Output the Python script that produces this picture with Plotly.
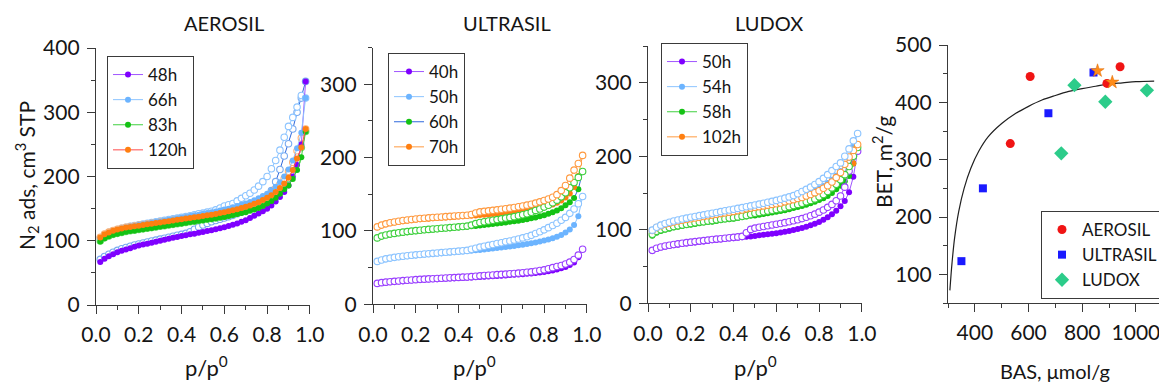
import plotly.graph_objects as go

# ---------------- data ----------------
P = [0.02, 0.04, 0.06, 0.08, 0.10, 0.12, 0.14, 0.16, 0.18, 0.20,
     0.22, 0.24, 0.26, 0.28, 0.30, 0.32, 0.34, 0.36, 0.38, 0.40,
     0.42, 0.44, 0.46, 0.48, 0.50, 0.52, 0.54, 0.56, 0.58, 0.60,
     0.62, 0.64, 0.66, 0.68, 0.70, 0.72, 0.74, 0.76, 0.78, 0.80,
     0.82, 0.84, 0.86, 0.88, 0.90, 0.92, 0.94, 0.96, 0.98]

# AEROSIL
A48_ADS = [67, 72, 76, 79, 82, 84.5, 86.5, 88.5, 90.5, 92.5,
           94, 95.5, 97, 98.5, 100, 101.5, 103, 104.5, 106, 107.5,
           108.5, 110, 111, 112.5, 113.5, 115, 116.5, 118, 119.5, 121,
           123, 125, 127, 129.5, 132, 135.5, 139, 142.5, 146, 150,
           155, 161, 168, 176, 186, 200, 218, 250, 348]
A48_DES = [71, 75.5, 79, 82, 85, 87.5, 89.5, 91.5, 93.5, 95,
           96.5, 98, 99.5, 101, 102.5, 104, 105.5, 107, 108.5, 110,
           111.5, 114, 118, 121.5, 124.5, 127, 129.5, 131.5, 133.5, 135.5,
           137.5, 139.5, 142, 144.5, 147, 150, 153, 157, 162, 168,
           178, 192, 211, 232, 251, 274, 300, 322, 348]
A66_ADS = [104, 109, 112.5, 115, 117, 119, 120.5, 122, 123, 124.5,
           125.5, 126.5, 128, 129, 130, 131.5, 132.5, 133.5, 135, 136,
           137, 138.5, 139.5, 140.5, 142, 143, 144.5, 145.5, 147, 148.5,
           150, 152, 154, 156, 158, 160.5, 163, 166, 169.5, 173,
           178, 184, 191, 200, 211, 225, 244, 268, 322]
A66_DES = [104.5, 109.5, 113, 115.5, 117.5, 119.5, 121, 122.5, 123.5, 125,
           126, 127, 128.5, 129.5, 130.5, 132, 133, 134, 135.5, 136.5,
           137.5, 139, 140.5, 142, 143, 144.5, 146, 148, 151, 154,
           156, 158, 162, 166, 170, 174, 179, 185, 192, 200,
           212, 225, 241, 261, 278, 292, 308, 326, 322]
A83_ADS = [99, 104, 107, 109.5, 111, 112.5, 114, 115, 116, 117,
           118, 119, 120, 121, 122, 123, 124, 125, 126, 127,
           128, 129, 130, 131, 132, 133, 134, 135, 136, 137,
           138.5, 140, 141.5, 143, 144.5, 146.5, 148.5, 151, 154, 158,
           162, 167, 173, 180, 186, 196, 210, 230, 270]
A83_DES = [99.5, 104.5, 107.5, 110, 111.5, 113, 114.5, 115.5, 116.5, 117.5,
           118.5, 119.5, 120.5, 121.5, 122.5, 123.5, 124.5, 125.5, 126.5, 127.5,
           128.5, 129.5, 130.5, 131.5, 132.5, 133.5, 134.5, 135.5, 137, 138.5,
           140, 141.5, 143, 145, 147, 149, 151.5, 154.5, 158, 162,
           167, 173, 180, 188, 197, 208, 224, 245, 270]
A120_ADS = [105, 110, 113, 115.5, 117.5, 119, 120.5, 121.5, 122.5, 123.5,
            124.5, 125.5, 126.5, 127.5, 128.5, 129.5, 130.5, 131.5, 132.5, 133.5,
            134.5, 135.5, 136.5, 137.5, 138.5, 139.5, 140.5, 141.5, 143, 144.5,
            146, 147.5, 149, 151, 153, 155, 157.5, 160, 163.5, 167,
            171, 176, 182, 189, 198, 210, 228, 245, 274]
A120_DES = [105.5, 110.5, 113.5, 116, 118, 119.5, 121, 122, 123, 124,
            125, 126, 127, 128, 129, 130, 131, 132, 133, 134,
            135, 136, 137, 138, 139, 140, 141, 142, 143.5, 145,
            146.5, 148, 150, 152, 154, 156.5, 159, 162, 166, 170,
            175, 181, 188, 197, 208, 222, 240, 260, 274]

# ULTRASIL
U40_ADS = [28, 29, 29.5, 30, 30.5, 31, 31.5, 32, 32.5, 33,
           33.2, 33.5, 33.8, 34, 34.3, 34.6, 34.9, 35.2, 35.5, 35.8,
           36, 36.3, 36.6, 37, 37.3, 37.6, 38, 38.3, 38.7, 39,
           39.4, 39.8, 40.2, 40.6, 41, 41.5, 42, 42.6, 43.2, 44,
           45, 46, 47.5, 49, 51, 53.5, 57, 64, 75]
U40_DES = [28.5, 29.5, 30.2, 30.8, 31.3, 31.8, 32.3, 32.8, 33.2, 33.6,
           34, 34.3, 34.6, 34.9, 35.2, 35.5, 35.8, 36.1, 36.4, 36.7,
           37, 37.3, 37.7, 38.3, 38.8, 39.2, 39.6, 40, 40.4, 40.8,
           41.2, 41.6, 42, 42.5, 43, 43.6, 44.2, 45, 46, 47,
           48.5, 50, 51.5, 53, 55, 57.5, 61, 67, 75]
U50_ADS = [58, 60, 61.3, 62.3, 63.2, 64, 64.7, 65.4, 66, 66.6,
           67.1, 67.6, 68.1, 68.6, 69.1, 69.6, 70.1, 70.6, 71.1, 71.6,
           72.1, 72.6, 73.1, 73.6, 74.1, 74.7, 75.3, 76, 76.7, 77.4,
           78.1, 78.8, 79.6, 80.4, 81.3, 82.2, 83.2, 84.3, 85.5, 87,
           88.5, 90, 92, 94.5, 98, 102, 108, 120, 147]
U50_DES = [58.5, 60.5, 62, 63, 64, 64.8, 65.5, 66.2, 66.8, 67.4,
           68, 68.5, 69, 69.5, 70, 70.5, 71, 71.5, 72, 72.5,
           73, 73.5, 75, 76.5, 78, 79.2, 80.4, 81.6, 82.8, 84,
           85.2, 86.4, 87.6, 89, 90.5, 92, 94, 96.5, 99, 101.5,
           104.5, 107.5, 110.5, 114.5, 118.5, 124, 130, 137, 147]
U60_ADS = [90, 92.5, 94, 95, 96, 96.8, 97.6, 98.3, 99, 99.6,
           100.2, 100.8, 101.3, 101.8, 102.3, 102.8, 103.3, 103.8, 104.3, 104.8,
           105.3, 105.8, 106.3, 106.8, 107.3, 108, 108.7, 109.4, 110.1, 110.8,
           111.6, 112.4, 113.2, 114, 115, 116, 117.2, 118.5, 120, 121.5,
           123.5, 125.5, 128, 131, 135, 139, 145, 157, 181]
U60_DES = [90.5, 93, 94.5, 95.7, 96.7, 97.6, 98.4, 99.1, 99.8, 100.4,
           101, 101.6, 102.1, 102.6, 103.1, 103.6, 104.1, 104.6, 105.1, 105.6,
           106.1, 106.6, 108, 110, 111.5, 112.5, 113.5, 114.5, 115.5, 116.5,
           117.5, 118.5, 119.5, 120.7, 122, 123.5, 125.5, 128, 130, 132.5,
           135, 138.5, 142, 146.5, 152, 159, 166, 173, 181]
U70_ADS = [105, 107.5, 109, 110.5, 111.5, 112.5, 113.3, 114, 114.7, 115.3,
           115.8, 116.3, 116.8, 117.2, 117.6, 118, 118.4, 118.8, 119.2, 119.6,
           120, 120.4, 120.8, 121.2, 121.6, 122, 122.5, 123, 123.5, 124,
           124.6, 125.2, 125.9, 126.6, 127.4, 128.2, 129.1, 130.1, 131.3, 132.6,
           134.2, 136, 138.5, 141.5, 145.5, 151, 160, 175, 203]
U70_DES = [105.5, 108, 109.7, 111.2, 112.3, 113.3, 114.2, 115, 115.7, 116.3,
           116.9, 117.4, 117.9, 118.3, 118.7, 119.1, 119.5, 119.9, 120.3, 120.7,
           121.1, 121.5, 122.5, 124.5, 126, 126.7, 127.4, 128.1, 128.8, 129.5,
           130.3, 131.1, 132, 133, 134, 135.2, 136.5, 138, 139.7, 141.5,
           143.6, 146, 149.5, 155, 162, 172, 183, 192, 203]

# LUDOX
L50_ADS = [71, 74, 75.8, 77, 78, 79, 79.8, 80.6, 81.4, 82.1,
           82.8, 83.5, 84.2, 84.9, 85.6, 86.2, 86.8, 87.4, 88, 88.6,
           89.2, 89.8, 90.4, 91, 91.7, 92.4, 93.1, 93.8, 94.6, 95.4,
           96.3, 97.3, 98.4, 99.6, 101, 102.5, 104.2, 106, 108.2, 110.7,
           113.5, 117, 121, 126, 132, 139, 151, 172, 207]
L50_DES = [72, 74.8, 76.6, 77.9, 79, 80, 80.9, 81.7, 82.5, 83.2,
           83.9, 84.6, 85.3, 86, 86.7, 87.3, 87.9, 88.5, 89.1, 89.7,
           90.3, 91, 96, 100.5, 102.3, 103.4, 104.5, 105.5, 106.5, 107.5,
           108.6, 109.7, 110.9, 112.2, 113.6, 115.2, 117, 119, 121.3, 124,
           127, 130.5, 134.5, 139.5, 146, 158, 180, 200, 207]
L54_ADS = [98.5, 102.5, 105, 107, 108.7, 110.2, 111.5, 112.7, 113.8, 114.9,
           115.9, 116.9, 117.9, 118.9, 119.9, 120.9, 121.9, 122.9, 123.9, 124.9,
           125.9, 126.9, 127.9, 128.9, 130, 131, 132, 133.2, 134.4, 135.6,
           137, 138.4, 140, 141.7, 143.5, 145.5, 147.8, 150.3, 153, 156,
           159.5, 163.5, 168, 173.5, 180, 188, 198, 214, 231]
L54_DES = [99.5, 103.5, 106.3, 108.5, 110.3, 111.9, 113.3, 114.6, 115.8, 117,
           118.1, 119.2, 120.3, 121.4, 122.5, 123.6, 124.7, 125.8, 126.9, 128,
           129.1, 130.2, 131.3, 132.5, 133.7, 134.9, 136.1, 137.4, 138.7, 140,
           141.5, 143, 144.7, 146.5, 149, 152, 155, 158, 161.5, 165.5,
           170, 175, 180.5, 186, 191, 200, 210, 221, 231]
L58_ADS = [92, 96, 98.5, 100, 101.5, 103, 104, 105, 106, 107,
           108, 109, 110, 110.5, 111, 112, 113, 114, 114.5, 115,
           116, 117, 118, 119, 119.5, 120.5, 121.5, 122.5, 123.5, 124.5,
           125.5, 126.5, 128, 129.5, 131, 132.5, 134, 136, 138, 140.5,
           143, 146, 150, 155, 160, 166, 173, 190, 212]
L58_DES = [94, 98, 100, 101.5, 103, 104.5, 105.5, 106.5, 107.5, 108.5,
           109.5, 110.5, 111, 112, 112.5, 113.5, 114.5, 115, 116, 116.5,
           117.5, 118.5, 119.5, 121, 122.5, 123.5, 124.5, 125.5, 126.5, 127.5,
           128.5, 130, 131.5, 133, 134.5, 136, 138, 140, 142, 145,
           148, 152, 157, 162, 168, 175, 186, 200, 212]
L102_ADS = [97, 101, 103.5, 105.5, 107, 108.5, 110, 111, 112, 113,
            114, 115, 116, 117, 118, 118.5, 119.5, 120.5, 121.5, 122.5,
            123.5, 124.5, 125.5, 126.5, 127.5, 128.5, 129.5, 130.5, 131.5, 132.5,
            133.5, 134.5, 136, 137.5, 139, 140.5, 142, 144, 146.5, 149,
            152, 155.5, 159.5, 164, 169, 175, 181, 190, 216]
L102_DES = [99, 103, 105.5, 107.5, 109, 110.5, 112, 113, 114, 115,
            116, 117, 118, 119, 120, 121, 122, 123, 124, 125,
            126, 127, 128.5, 129.5, 130.5, 131.5, 132.5, 133.5, 134.5, 135.5,
            136.5, 138, 139.5, 141, 142.5, 144, 146, 148, 150.5, 153,
            156.5, 160, 165, 171, 178, 189, 199, 208, 216]

# BET vs BAS panel
AER_BAS = [532, 606, 892, 941]
AER_BET = [328, 445, 433, 462]
ULT_BAS = [350, 430, 674, 842]
ULT_BET = [123, 250, 381, 452]
LUD_BAS = [722, 771, 886, 1041]
LUD_BET = [311, 430, 401, 421]
STAR_BAS = [857, 912]
STAR_BET = [455, 435]
FIT_BAS = [307, 315, 325, 340, 360, 385, 415, 450, 500, 550, 600, 650,
           700, 750, 800, 850, 900, 950, 1000, 1068]
FIT_BET = [72, 120, 165, 210, 250, 285, 315, 340, 363, 380, 393, 404,
           412, 419, 424, 428, 432, 434, 436, 437]

PANEL_TITLES = ["AEROSIL", "ULTRASIL", "LUDOX"]
A_LABELS = ["48h", "66h", "83h", "120h"]
U_LABELS = ["40h", "50h", "60h", "70h"]
L_LABELS = ["50h", "54h", "58h", "102h"]
SCATTER_LABELS = ["AEROSIL", "ULTRASIL", "LUDOX"]

for arr in [A48_ADS, A48_DES, A66_ADS, A66_DES, A83_ADS, A83_DES, A120_ADS, A120_DES,
            U40_ADS, U40_DES, U50_ADS, U50_DES, U60_ADS, U60_DES, U70_ADS, U70_DES,
            L50_ADS, L50_DES, L54_ADS, L54_DES, L58_ADS, L58_DES, L102_ADS, L102_DES]:
    assert len(arr) == len(P), len(arr)

# ---------------- styling ----------------
W, H = 1159, 388
FONT = "Lato"
AX = "#3a3a3a"
TXT = "#151515"

PURPLE, PURPLE_L = "#7f00ff", "#a055ff"
LBLUE, LBLUE_L = "#6cb4ff", "#8cc4ff"
GREEN, GREEN_L = "#14c214", "#40d040"
ORANGE = "#ff7f10"
RED_L = "#ff4a4a"
BLUE_L = "#2f68dc"
ORANGE_L = "#ff9a40"


def fx(px):
    return px / W


def fy(py):
    return 1 - py / H


fig = go.Figure()


def ads_trace(xa, ya, y, name, mcol, lcol, legend):
    return go.Scatter(x=P, y=y, xaxis=xa, yaxis=ya, name=name, legend=legend,
                      mode="lines+markers", line=dict(color=lcol, width=1),
                      marker=dict(color=mcol, size=6, line=dict(width=0)))


def des_trace(xa, ya, y, rcol, lcol):
    return go.Scatter(x=P, y=y, xaxis=xa, yaxis=ya, showlegend=False,
                      mode="lines+markers", line=dict(color=lcol, width=1),
                      marker=dict(color="white", size=6.5,
                                  line=dict(color=rcol, width=1.1)))


# Panel 1: AEROSIL (desorption below, adsorption on top)
fig.add_trace(des_trace("x", "y", A48_DES, "#78aaf0", BLUE_L))
fig.add_trace(des_trace("x", "y", A66_DES, LBLUE_L, LBLUE_L))
fig.add_trace(des_trace("x", "y", A83_DES, "#6fdc6f", GREEN_L))
fig.add_trace(des_trace("x", "y", A120_DES, "#ffb070", RED_L))
fig.add_trace(ads_trace("x", "y", A48_ADS, A_LABELS[0], PURPLE, PURPLE_L, "legend"))
fig.add_trace(ads_trace("x", "y", A66_ADS, A_LABELS[1], LBLUE, LBLUE_L, "legend"))
fig.add_trace(ads_trace("x", "y", A83_ADS, A_LABELS[2], GREEN, GREEN_L, "legend"))
fig.add_trace(ads_trace("x", "y", A120_ADS, A_LABELS[3], ORANGE, RED_L, "legend"))

# Panel 2: ULTRASIL
fig.add_trace(ads_trace("x2", "y2", U40_ADS, U_LABELS[0], PURPLE, PURPLE_L, "legend2"))
fig.add_trace(ads_trace("x2", "y2", U50_ADS, U_LABELS[1], LBLUE, LBLUE_L, "legend2"))
fig.add_trace(ads_trace("x2", "y2", U60_ADS, U_LABELS[2], GREEN, BLUE_L, "legend2"))
fig.add_trace(ads_trace("x2", "y2", U70_ADS, U_LABELS[3], ORANGE, ORANGE_L, "legend2"))
fig.add_trace(des_trace("x2", "y2", U40_DES, "#9a40ff", PURPLE_L))
fig.add_trace(des_trace("x2", "y2", U50_DES, LBLUE_L, LBLUE_L))
fig.add_trace(des_trace("x2", "y2", U60_DES, "#3fd03f", GREEN_L))
fig.add_trace(des_trace("x2", "y2", U70_DES, ORANGE_L, ORANGE_L))

# Panel 3: LUDOX
fig.add_trace(ads_trace("x3", "y3", L50_ADS, L_LABELS[0], PURPLE, PURPLE_L, "legend3"))
fig.add_trace(ads_trace("x3", "y3", L54_ADS, L_LABELS[1], LBLUE, LBLUE_L, "legend3"))
fig.add_trace(ads_trace("x3", "y3", L58_ADS, L_LABELS[2], GREEN, GREEN_L, "legend3"))
fig.add_trace(ads_trace("x3", "y3", L102_ADS, L_LABELS[3], ORANGE, ORANGE_L, "legend3"))
fig.add_trace(des_trace("x3", "y3", L50_DES, "#9a40ff", PURPLE_L))
fig.add_trace(des_trace("x3", "y3", L58_DES, "#3fd03f", GREEN_L))
fig.add_trace(des_trace("x3", "y3", L102_DES, ORANGE_L, ORANGE_L))
fig.add_trace(des_trace("x3", "y3", L54_DES, LBLUE_L, LBLUE_L))

# Panel 4: BET vs BAS
fig.add_trace(go.Scatter(x=FIT_BAS, y=FIT_BET, xaxis="x4", yaxis="y4", mode="lines",
                         line=dict(color="#202020", width=1.2, shape="spline"),
                         showlegend=False))
fig.add_trace(go.Scatter(x=AER_BAS, y=AER_BET, xaxis="x4", yaxis="y4", mode="markers",
                         name=SCATTER_LABELS[0], legend="legend4",
                         marker=dict(symbol="circle", size=9, color="#f01414")))
fig.add_trace(go.Scatter(x=ULT_BAS, y=ULT_BET, xaxis="x4", yaxis="y4", mode="markers",
                         name=SCATTER_LABELS[1], legend="legend4",
                         marker=dict(symbol="square", size=8, color="#1a1aff")))
fig.add_trace(go.Scatter(x=LUD_BAS, y=LUD_BET, xaxis="x4", yaxis="y4", mode="markers",
                         name=SCATTER_LABELS[2], legend="legend4",
                         marker=dict(symbol="diamond", size=11, color="#2ccc8a")))
fig.add_trace(go.Scatter(x=STAR_BAS, y=STAR_BET, xaxis="x4", yaxis="y4", mode="markers",
                         showlegend=False,
                         marker=dict(symbol="star", size=10, color="#ff8c1a",
                                     line=dict(color="#e06a00", width=0.5))))

tickfont = dict(family=FONT, size=21, color=TXT)


def axis(domain, rng, dtick, minor_dtick, tick0=0, fmt=None, anchor=None):
    d = dict(domain=domain, range=rng, dtick=dtick, tick0=tick0,
             showline=True, linecolor=AX, linewidth=1.3, mirror=False,
             ticks="outside", ticklen=8, tickwidth=1.3, tickcolor=AX,
             showgrid=False, zeroline=False, tickfont=tickfont,
             automargin=False, anchor=anchor, ticklabelstandoff=3,
             ticklabeloverflow="allow",
             minor=dict(dtick=minor_dtick, tick0=tick0, ticks="outside",
                        ticklen=4, tickwidth=1.2, tickcolor=AX, showgrid=False))
    if fmt:
        d["tickformat"] = fmt
    return d


def leg(x, y):
    return dict(x=fx(x), y=fy(y), xanchor="left", yanchor="top", bgcolor="white",
                bordercolor=AX, borderwidth=1,
                font=dict(family=FONT, size=17, color=TXT),
                itemwidth=30, tracegroupgap=0, traceorder="normal")


fig.update_layout(
    width=W, height=H,
    margin=dict(l=0, r=0, t=0, b=0, autoexpand=False),
    paper_bgcolor="white", plot_bgcolor="white",
    showlegend=True,
    xaxis=axis([fx(96), fx(310)], [0, 1.0005], 0.2, 0.1, fmt=".1f", anchor="y"),
    yaxis=axis([fy(305), fy(48)], [0, 400], 100, 50, anchor="x"),
    xaxis2=axis([fx(373), fx(587)], [0, 1.0005], 0.2, 0.1, fmt=".1f", anchor="y2"),
    yaxis2=axis([fy(304.3), fy(47.6)], [0, 350], 100, 50, anchor="x2"),
    xaxis3=axis([fx(648), fx(862)], [0, 1.0005], 0.2, 0.1, fmt=".1f", anchor="y3"),
    yaxis3=axis([fy(303.3), fy(46)], [0, 350], 100, 50, anchor="x3"),
    xaxis4=axis([fx(948), 1.0], [300, 1086], 200, 100, anchor="y4"),
    yaxis4=axis([fy(303), fy(45)], [50, 500], 100, 50, anchor="x4"),
    legend=leg(107, 56),
    legend2=leg(388, 53),
    legend3=leg(661, 43),
    legend4=leg(1041, 211),
)

annotations = [
    dict(text=PANEL_TITLES[0], x=fx(224), y=fy(23)),
    dict(text=PANEL_TITLES[1], x=fx(507), y=fy(23)),
    dict(text=PANEL_TITLES[2], x=fx(769), y=fy(23)),
    dict(text="p/p<sup>0</sup>", x=fx(206), y=fy(366), font_size=22),
    dict(text="p/p<sup>0</sup>", x=fx(474), y=fy(366), font_size=22),
    dict(text="p/p<sup>0</sup>", x=fx(755), y=fy(366), font_size=22),
    dict(text="BAS, \u03bcmol/g", x=fx(1055), y=fy(371)),
    dict(text="N<sub>2</sub> ads, cm<sup>3</sup> STP", x=fx(27), y=fy(176),
         textangle=-90, font_size=21),
    dict(text="BET, m<sup>2</sup>/g", x=fx(882), y=fy(162), textangle=-90, font_size=21),
]
for a in annotations:
    size = a.pop("font_size", 20)
    a.update(xref="paper", yref="paper", showarrow=False,
             font=dict(family=FONT, size=size, color=TXT),
             xanchor="center", yanchor="middle")
fig.update_layout(annotations=annotations)

fig.write_html("out.html",
               config={"displayModeBar": False},
               post_script="document.body.style.margin='0px';"
                           "document.body.style.overflow='hidden';")
